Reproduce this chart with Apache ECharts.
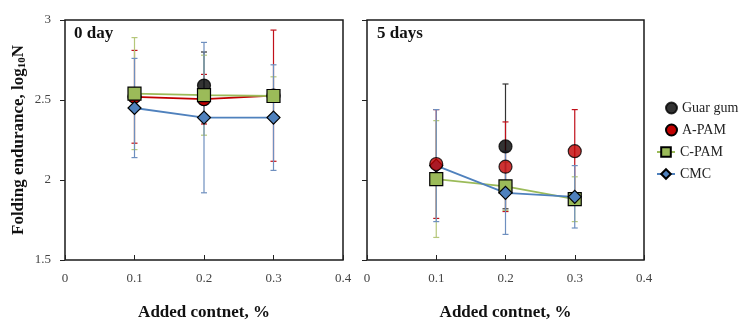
<!DOCTYPE html>
<html><head><meta charset="utf-8">
<script src="https://cdn.jsdelivr.net/npm/echarts@6/dist/echarts.min.js"></script>
<style>html,body{margin:0;padding:0;background:#fff}#c{width:750px;height:332px}</style>
</head><body><div id="c"></div>
<script>
const xVals = [0.1, 0.2, 0.3];
const xTicks = [0, 0.1, 0.2, 0.3, 0.4];
const yTicks = [1.5, 2, 2.5, 3];
const panelTitles = ['0 day', '5 days'];
const seriesNames = ['Guar gum', 'A-PAM', 'C-PAM', 'CMC'];

// 0 day
const guar0 = [null, 2.59, null];
const guar0Err = [null, 0.21, null];
const apam0 = [2.52, 2.505, 2.527];
const apam0Err = [0.29, 0.155, 0.41];
const cpam0 = [2.54, 2.53, 2.525];
const cpam0Err = [0.35, 0.25, 0.12];
const cmc0 = [2.45, 2.39, 2.39];
const cmc0Err = [0.31, 0.47, 0.33];

// 5 days
const guar5 = [null, 2.21, null];
const guar5Err = [null, 0.39, null];
const apam5 = [2.10, 2.083, 2.18];
const apam5Err = [0.34, 0.28, 0.26];
const cpam5 = [2.006, 1.96, 1.88];
const cpam5Err = [0.365, 0.15, 0.14];
const cmc5 = [2.09, 1.92, 1.895];
const cmc5Err = [0.35, 0.26, 0.195];

const COLORS = {'Guar gum':'#000000','A-PAM':'#C00000','C-PAM':'#9BBB59','CMC':'#4F81BD'};
const ERRCOL = {'Guar gum':'#333333','A-PAM':'#C0101A','C-PAM':'#B5C77A','CMC':'#6E8FBF'};
const FONT = '"Liberation Serif","Times New Roman",serif';

function pts(vals){ return xVals.map((x,i)=> vals[i]==null ? null : [x, vals[i]]).filter(p=>p); }
function errPts(vals, errs){ return xVals.map((x,i)=> vals[i]==null ? null : [x, vals[i], errs[i]]).filter(p=>p); }

function errSeries(name, vals, errs, gi){
  return {
    type:'custom', name: name+' err', xAxisIndex:gi, yAxisIndex:gi, z:1, silent:true,
    data: errPts(vals, errs),
    renderItem: function(params, api){
      const x = api.value(0), y = api.value(1), e = api.value(2);
      const t = api.coord([x, y+e]), b = api.coord([x, y-e]);
      const w = 3;
      const st = {stroke: ERRCOL[name], lineWidth: 1.2};
      return {type:'group', children:[
        {type:'line', shape:{x1:t[0],y1:t[1],x2:b[0],y2:b[1]}, style:st},
        {type:'line', shape:{x1:t[0]-w,y1:t[1],x2:t[0]+w,y2:t[1]}, style:st},
        {type:'line', shape:{x1:b[0]-w,y1:b[1],x2:b[0]+w,y2:b[1]}, style:st}
      ]};
    }
  };
}

function markSeries(name, vals, gi, withLine, z){
  const sym = {'Guar gum':'circle','A-PAM':'circle','C-PAM':'rect','CMC':'diamond'}[name];
  const size = 13;
  const base = {
    name, xAxisIndex:gi, yAxisIndex:gi, z: z,
    data: pts(vals), symbol: sym, symbolSize: size,
    itemStyle:{color: COLORS[name], borderColor:'#000', borderWidth:1.2}
  };
  if (withLine) {
    return Object.assign(base, {type:'line', lineStyle:{color: COLORS[name], width:1.8}, showSymbol:true});
  }
  return Object.assign(base, {type:'scatter'});
}

const series = [];
const sets = [
  [[guar0,guar0Err],[apam0,apam0Err],[cpam0,cpam0Err],[cmc0,cmc0Err]],
  [[guar5,guar5Err],[apam5,apam5Err],[cpam5,cpam5Err],[cmc5,cmc5Err]]
];
sets.forEach((set, gi)=>{
  set.forEach((pair, si)=> series.push(errSeries(seriesNames[si], pair[0], pair[1], gi)));
});
sets.forEach((set, gi)=>{
  set.forEach((pair, si)=>{
    const name = seriesNames[si];
    let withLine = (name==='C-PAM' || name==='CMC');
    if (name==='A-PAM' && gi===0) withLine = true;
    const z = (gi===1 && name==='A-PAM') ? 5 : 3;
    series.push(markSeries(name, pair[0], gi, withLine, z));
  });
});

const grids = [
  {left:65, top:20, width:278, height:240},
  {left:367, top:20, width:277, height:240}
];

function xAxis(gi){
  return {
    type:'value', gridIndex:gi, min:xTicks[0], max:xTicks[xTicks.length-1], interval:0.1,
    axisLine:{show:false}, splitLine:{show:false},
    axisTick:{show:true, inside:true, length:5, lineStyle:{color:'#222'}},
    axisLabel:{fontFamily:FONT, fontSize:13, color:'#444', margin:12,
      formatter: v => v===0 ? '0' : v.toFixed(1)},
    name:'Added contnet, %', nameLocation:'middle', nameGap:44,
    nameTextStyle:{fontFamily:FONT, fontSize:17, fontWeight:'bold', color:'#111'}
  };
}
function yAxis(gi){
  const ax = {
    type:'value', gridIndex:gi, min:yTicks[0], max:yTicks[yTicks.length-1], interval:0.5,
    axisLine:{show:false}, splitLine:{show:false},
    axisTick:{show:true, inside:false, length:5, lineStyle:{color:'#222'}},
    axisLabel:{show: gi===0, fontFamily:FONT, fontSize:13, color:'#444', margin:14}
  };
  if (gi===0) {
    ax.name = '{a|Folding endurance, log}{s|10}{a|N}';
    ax.nameLocation = 'middle';
    ax.nameGap = 37;
    ax.nameTextStyle = {rich:{
      a:{fontFamily:FONT, fontSize:17, fontWeight:'bold', color:'#111'},
      s:{fontFamily:FONT, fontSize:11, fontWeight:'bold', color:'#111', verticalAlign:'bottom', padding:[8,0,0,0]}
    }};
  }
  return ax;
}

const legendText = {fontFamily:FONT, fontSize:14, color:'#222'};

const option = {
  animation:false,
  backgroundColor:'#fff',
  grid: grids.map(g=>Object.assign({show:true, borderColor:'#1a1a1a', borderWidth:1.5, backgroundColor:'#fff'}, g)),
  xAxis:[xAxis(0), xAxis(1)],
  yAxis:[yAxis(0), yAxis(1)],
  title: panelTitles.map((t,i)=>({text:t, left: i===0 ? 74 : 377, top: 25,
    textStyle:{fontFamily:FONT, fontSize:17, fontWeight:'bold', color:'#111'}, padding:0})),
  legend:[
    {
      data: [{name:'Guar gum', icon:'circle'}, {name:'A-PAM', icon:'circle'}],
      orient:'vertical', left:665, top:101, itemGap:8, itemWidth:11, itemHeight:11,
      textStyle:legendText, padding:0
    },
    {
      data: ['C-PAM', 'CMC'],
      orient:'vertical', left:656, top:145, itemGap:8, itemWidth:18, itemHeight:12,
      textStyle:legendText, padding:0
    }
  ],
  series
};
const chart = echarts.init(document.getElementById('c'), null, {renderer:'canvas'});
chart.setOption(option);
</script>
</body></html>
